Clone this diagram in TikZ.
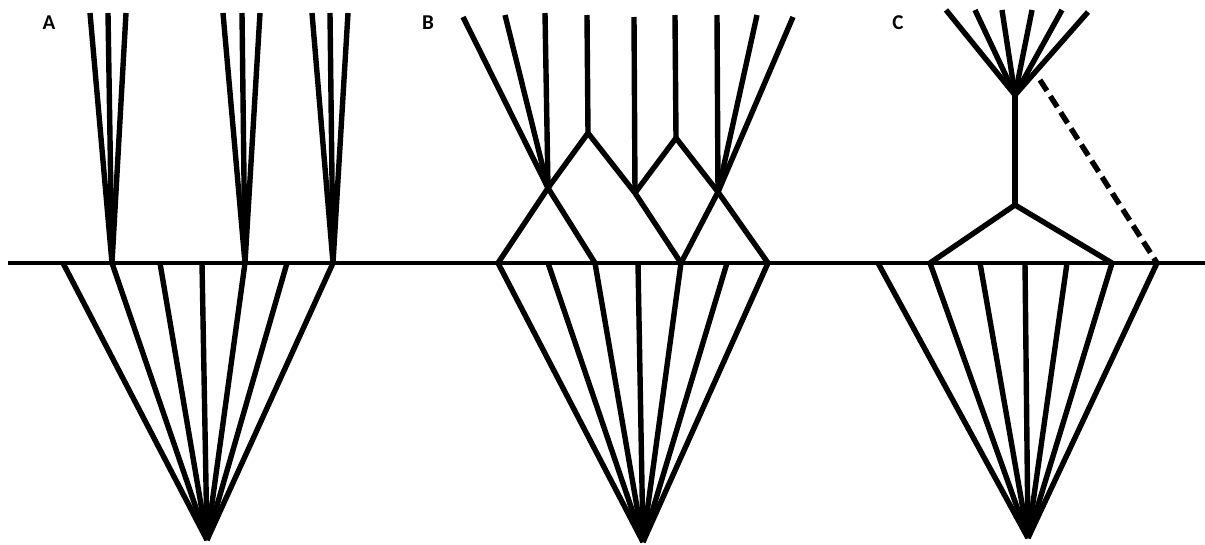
\documentclass[tikz,border=0pt]{standalone}
\usepackage{fontspec}
\setmainfont{Carlito}
\begin{document}
\begin{tikzpicture}[x=0.025cm, y=-0.025cm, line join=miter, line cap=butt]
	\tikzset{
	branch/.style={black,line width=0.135cm},
	lab/.style={font=\bfseries\fontsize{15}{15}\selectfont, inner sep=0pt}
	}
	\useasboundingbox (0,0) rectangle (1205,545);
	% ground line
	\coordinate (gl) at (8,263);
	\coordinate (gr) at (1205,263);
	\draw[branch,line width=0.12cm] (gl) -- (gr);
	% A
	\node[lab] (labA) at (49,23) {A};
	\coordinate (A0) at (207,540);
	\foreach \x[count=\i] in {63,112,160,202,245,287,333}{
	\coordinate (a\i) at (\x,263);
	\draw[branch] (A0) -- (a\i);
	}
	\foreach \x[count=\j] in {90,108,126}{\coordinate (ta\j) at (\x,13); \draw[branch] (a2) -- (ta\j);}
	\foreach \x[count=\j] in {223,242,260}{\coordinate (tb\j) at (\x,13); \draw[branch] (a5) -- (tb\j);}
	\foreach \x[count=\j] in {312,330,348}{\coordinate (tc\j) at (\x,13); \draw[branch] (a7) -- (tc\j);}
	% B
	\node[lab] (labB) at (428,23) {B};
	\coordinate (B0) at (643,542);
	\foreach \x[count=\i] in {498,548,595,638,681,727,768}{
	\coordinate (b\i) at (\x,263);
	\draw[branch] (B0) -- (b\i);
	}
	\coordinate (P1) at (548,188);
	\coordinate (Q1) at (588,133);
	\coordinate (R) at (635,193);
	\coordinate (Q2) at (676,138);
	\coordinate (P2) at (718,192);
	\foreach \x/\y[count=\j] in {463/17,505/15,545/13}{\coordinate (tp\j) at (\x,\y); \draw[branch] (P1) -- (tp\j);}
	\foreach \x/\y[count=\j] in {717/15,757/15,793/17}{\coordinate (tq\j) at (\x,\y); \draw[branch] (P2) -- (tq\j);}
	\coordinate (tq1top) at (587,15);
	\coordinate (trtop) at (634,17);
	\coordinate (tq2top) at (675,15);
	\draw[branch] (Q1) -- (tq1top);
	\draw[branch] (R) -- (trtop);
	\draw[branch] (Q2) -- (tq2top);
	\draw[branch] (b1) -- (P1) -- (Q1) -- (R) -- (b5);
	\draw[branch] (b3) -- (P1);
	\draw[branch] (R) -- (Q2) -- (P2) -- (b7);
	\draw[branch] (P2) -- (b5);
	% C
	\node[lab] (labC) at (898,23) {C};
	\coordinate (C0) at (1028,538);
	\foreach \x[count=\i] in {878,930,980,1025,1067,1112,1157}{
	\coordinate (c\i) at (\x,263);
	\draw[branch] (C0) -- (c\i);
	}
	\coordinate (F) at (1015,95);
	\coordinate (Y) at (1015,205);
	\foreach \x/\y[count=\j] in {946/10,975/10,1002/10,1032/10,1062/10,1088/12}{\coordinate (tf\j) at (\x,\y); \draw[branch] (F) -- (tf\j);}
	\draw[branch] (F) -- (Y);
	\draw[branch] (c2) -- (Y) -- (c6);
	\coordinate (D) at (1040,80);
	\draw[branch,dash pattern=on 0.32cm off 0.16cm] (D) -- (c7);
\end{tikzpicture}
\end{document}
